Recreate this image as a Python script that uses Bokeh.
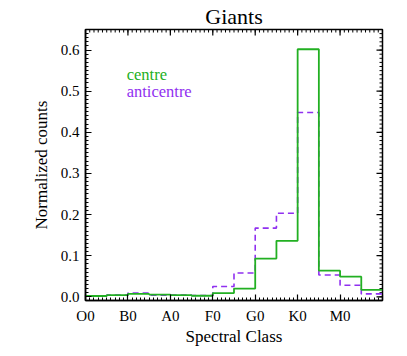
import math
from bokeh.plotting import figure
from bokeh.models import Range1d, FixedTicker, Label
from bokeh.embed import file_html
from bokeh.resources import INLINE

# --- data ---
bin_edges = [0.0, 0.5, 1.0, 1.5, 2.0, 2.5, 3.0, 3.5, 4.0, 4.5, 5.0, 5.5, 6.0, 6.5, 7.0]
centre = [0.002, 0.004, 0.007, 0.0055, 0.004, 0.0025, 0.009, 0.020, 0.093, 0.136, 0.602, 0.0635, 0.049, 0.017]
anticentre = [0.002, 0.004, 0.009, 0.004, 0.004, 0.003, 0.025, 0.058, 0.167, 0.203, 0.448, 0.053, 0.028, 0.007]
class_ticks = [0, 1, 2, 3, 4, 5, 6, 7]
class_labels = ["O0", "B0", "A0", "F0", "G0", "K0", "M0", ""]
y_ticks = [0.0, 0.1, 0.2, 0.3, 0.4, 0.5, 0.6]

FONT = "Liberation Serif"
GREEN = "#22b022"
PURPLE = "#9030f0"
X0, X1 = 0, 7
Y0, Y1 = -0.009, 0.65

p = figure(width=400, height=348, output_backend="svg", toolbar_location=None,
           x_range=Range1d(X0, X1), y_range=Range1d(Y0, Y1),
           min_border_left=85, min_border_right=18, min_border_top=26, min_border_bottom=46,
           title="Giants")
p.title.align = "center"
p.title.text_font = FONT
p.title.text_font_size = "22px"
p.title.text_font_style = "normal"
p.title.text_color = "black"
p.title.offset = 0
p.title.standoff = 2

p.grid.visible = False
p.outline_line_color = "black"
p.outline_line_width = 1.5
p.background_fill_color = "white"
p.border_fill_color = "white"

minor_x = [i / 10 for i in range(0, 71)]
minor_y = [i / 100 for i in range(-1, 66)]

def style(ax):
    ax.axis_line_color = "black"
    ax.axis_line_width = 1.5
    ax.major_tick_in = 6
    ax.major_tick_out = 0
    ax.minor_tick_in = 3
    ax.minor_tick_out = 0
    ax.major_tick_line_color = "black"
    ax.minor_tick_line_color = "black"
    ax.major_tick_line_width = 1.2
    ax.minor_tick_line_width = 1
    ax.major_label_text_font = FONT
    ax.major_label_text_font_size = "15px"
    ax.major_label_text_color = "black"
    ax.axis_label_text_font = FONT
    ax.axis_label_text_font_size = "17px"
    ax.axis_label_text_font_style = "normal"
    ax.axis_label_text_color = "black"

xb = p.xaxis[0]
xb.ticker = FixedTicker(ticks=class_ticks, minor_ticks=minor_x)
xb.major_label_overrides = {t: l for t, l in zip(class_ticks, class_labels)}
xb.axis_label = "Spectral Class"
xb.major_label_standoff = 7
xb.axis_label_standoff = 0
style(xb)

yl = p.yaxis[0]
yl.ticker = FixedTicker(ticks=y_ticks, minor_ticks=minor_y)
yl.major_label_overrides = {t: f"{t:.1f}" for t in y_ticks}
yl.axis_label = "Normalized counts"
yl.major_label_standoff = 6
yl.axis_label_standoff = 7
style(yl)

# inward ticks on the top and right frame edges (half of each dash is clipped by the frame)
p.scatter(minor_x, [Y1] * len(minor_x), marker="dash", size=6, angle=math.pi / 2,
          line_color="black", line_width=1)
p.scatter(class_ticks, [Y1] * len(class_ticks), marker="dash", size=12, angle=math.pi / 2,
          line_color="black", line_width=1.2)
p.scatter([X1] * len(minor_y), minor_y, marker="dash", size=6, line_color="black", line_width=1)
p.scatter([X1] * len(y_ticks), y_ticks, marker="dash", size=12, line_color="black", line_width=1.2)

xs = bin_edges
ya = anticentre + [anticentre[-1]]
yc = centre + [centre[-1]]
p.step(xs, ya, mode="after", line_color=PURPLE, line_width=1.6, line_dash="6 4")
p.step(xs, yc, mode="after", line_color=GREEN, line_width=1.8)

p.add_layout(Label(x=0.97, y=0.541, text="centre", text_color=GREEN, text_font=FONT,
                   text_font_size="16.5px", text_baseline="alphabetic"))
p.add_layout(Label(x=0.97, y=0.50, text="anticentre", text_color=PURPLE, text_font=FONT,
                   text_font_size="16.5px", text_baseline="alphabetic"))

open("out.html", "w").write(file_html(p, INLINE))
